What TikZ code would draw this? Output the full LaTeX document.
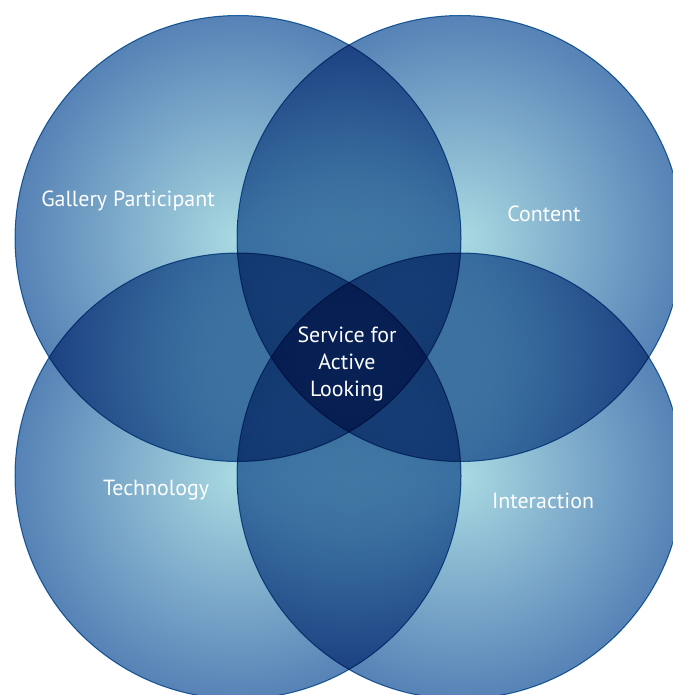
\documentclass[tikz,border=0pt]{standalone}
\usepackage{fontspec}
\setmainfont{PT Sans}

\definecolor{venncentre}{RGB}{170,218,226}
\definecolor{vennedge}{RGB}{86,130,182}
\definecolor{vennline}{RGB}{40,120,178}
% glow from the middle of each circle out to its rim (25bp = rim)
\pgfdeclareradialshading{vennglow}{\pgfpoint{0bp}{0bp}}
  {color(0bp)=(venncentre); color(25bp)=(vennedge); color(50bp)=(vennedge)}

\begin{document}
\begin{tikzpicture}[x=1bp,y=-1bp,
  venn/.style={shading=vennglow,draw=vennline,line width=1bp,
               blend mode=multiply},
  setname/.style={text=white,align=center,
                  font=\fontsize{22}{27}\selectfont}
]
\fill[white] (0,0) rectangle (673,695);
\useasboundingbox (0,0) rectangle (673,695);

% the four sets
\path[venn] (238,238.5) circle[radius=223bp];
\path[venn] (460,238.5) circle[radius=223bp];
\path[venn] (238,476) circle[radius=223bp];
\path[venn] (460,476) circle[radius=223bp];

\node[setname] (gallery) at (128,201) {Gallery Participant};
\node[setname] (content) at (544,214) {Content};
\node[setname] (technology) at (156,490) {Technology};
\node[setname] (interaction) at (543,501) {Interaction};
\node[setname] (service) at (347,364) {Service for\\Active\\Looking};
\end{tikzpicture}
\end{document}
